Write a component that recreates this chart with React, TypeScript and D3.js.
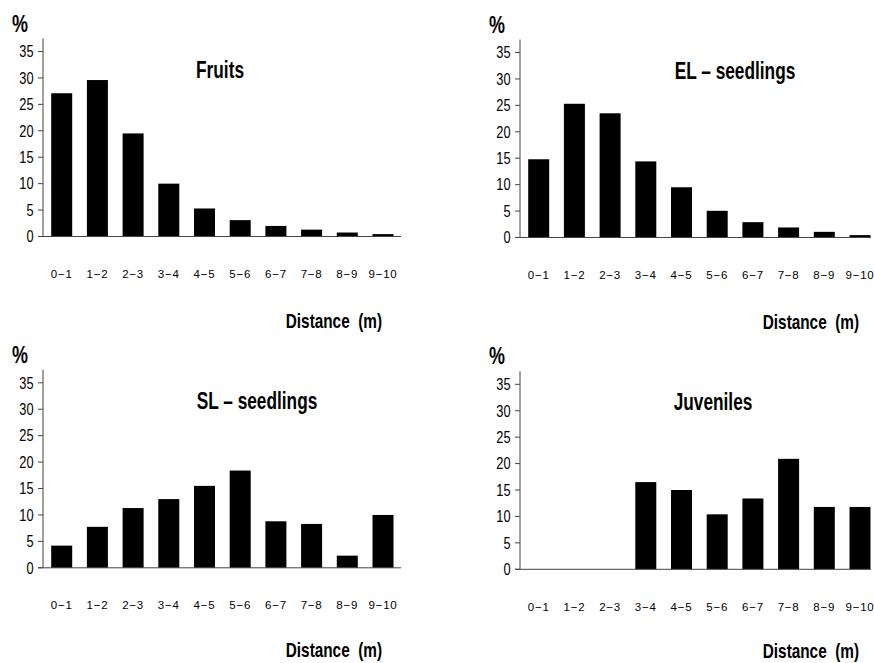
import React from "react";
import * as d3 from "d3";

const categories = ["0−1", "1−2", "2−3", "3−4", "4−5", "5−6", "6−7", "7−8", "8−9", "9−10"];
const fruits = [27.1, 29.6, 19.5, 10.0, 5.3, 3.1, 2.0, 1.3, 0.75, 0.45];
const elSeedlings = [14.8, 25.3, 23.5, 14.4, 9.5, 5.05, 2.9, 1.9, 1.07, 0.45];
const slSeedlings = [4.2, 7.75, 11.3, 13.0, 15.5, 18.4, 8.8, 8.3, 2.3, 10.0];
const juveniles = [0, 0, 0, 16.5, 15.0, 10.4, 13.4, 20.9, 11.8, 11.8];
const yTicks = [0, 5, 10, 15, 20, 25, 30, 35];
const titles = ["Fruits", "EL – seedlings", "SL – seedlings", "Juveniles"];
const xTitle = "Distance\u00A0\u00A0(m)";
const yTitle = "%";

const panels = [
  { values: fruits, title: titles[0], ax: 43, y0: 236.5, titleX: 177, titleY: 78, pctX: 20, xtY: 91.5 },
  { values: elSeedlings, title: titles[1], ax: 520, y0: 237.5, titleX: 215, titleY: 79, pctX: 497, xtY: 91.5 },
  { values: slSeedlings, title: titles[2], ax: 43, y0: 567.8, titleX: 214, titleY: 409, pctX: 20, xtY: 89.5 },
  { values: juveniles, title: titles[3], ax: 520, y0: 569.3, titleX: 193, titleY: 410, pctX: 497, xtY: 88.5 },
];

const SANS = "'Liberation Sans', Arial, sans-serif";

function CText({ x, y, sx, size, bold, anchor, children, ls }: any) {
  return (
    <g transform={`translate(${x},${y}) scale(${sx},1)`}>
      <text x={0} y={0} textAnchor={anchor} fontFamily={SANS} fontWeight={bold ? "bold" : "normal"} fontSize={size} letterSpacing={ls || 0} fill="#000">
        {children}
      </text>
    </g>
  );
}

function Panel({ p }: { p: any }) {
  const plotH = 185;
  const y = d3.scaleLinear().domain([0, 35]).range([p.y0, p.y0 - plotH]);
  const x = d3.scalePoint<string>().domain(categories).range([p.ax + 18.7, p.ax + 18.7 + 9 * 35.7]);
  const bw = 21;
  const axisTop = y(35) - 13;
  const baseEnd = Math.min(p.ax + 358, 871);
  const pctY = p.y0 - 205;
  return (
    <g>
      {p.values.map((v: number, i: number) => (
        <rect key={i} x={(x(categories[i]) as number) - bw / 2} y={y(v)} width={bw} height={p.y0 - y(v)} fill="#000" />
      ))}
      <line x1={p.ax} x2={p.ax} y1={axisTop} y2={p.y0} stroke="#444" strokeWidth={1} />
      <line x1={p.ax - 5} x2={baseEnd} y1={p.y0} y2={p.y0} stroke="#444" strokeWidth={1} />
      {yTicks.map((t) => (
        <g key={t}>
          <line x1={p.ax - 5} x2={p.ax} y1={y(t)} y2={y(t)} stroke="#444" strokeWidth={1} />
          <CText x={p.ax - 9.5} y={y(t) + 5.8} sx={0.8} size={16} anchor="end">
            {t}
          </CText>
        </g>
      ))}
      {categories.map((c) => (
        <CText key={c} x={x(c) as number} y={p.y0 + 41.5} sx={1} size={11.5} anchor="middle" ls={0.8}>
          {c}
        </CText>
      ))}
      <CText x={p.pctX} y={pctY} sx={0.78} size={23} bold anchor="middle">
        {yTitle}
      </CText>
      <CText x={p.ax + p.titleX} y={p.titleY} sx={0.72} size={24} bold anchor="middle">
        {p.title}
      </CText>
      <CText x={p.ax + 339} y={p.y0 + p.xtY} sx={0.73} size={21} bold anchor="end">
        {xTitle}
      </CText>
    </g>
  );
}

export default function App() {
  return (
    <svg width={874} height={663} style={{ position: "absolute", left: 0, top: 0, background: "#fff" }}>
      <rect x={0} y={0} width={874} height={663} fill="#fff" />
      {panels.map((p, i) => (
        <Panel key={i} p={p} />
      ))}
    </svg>
  );
}
